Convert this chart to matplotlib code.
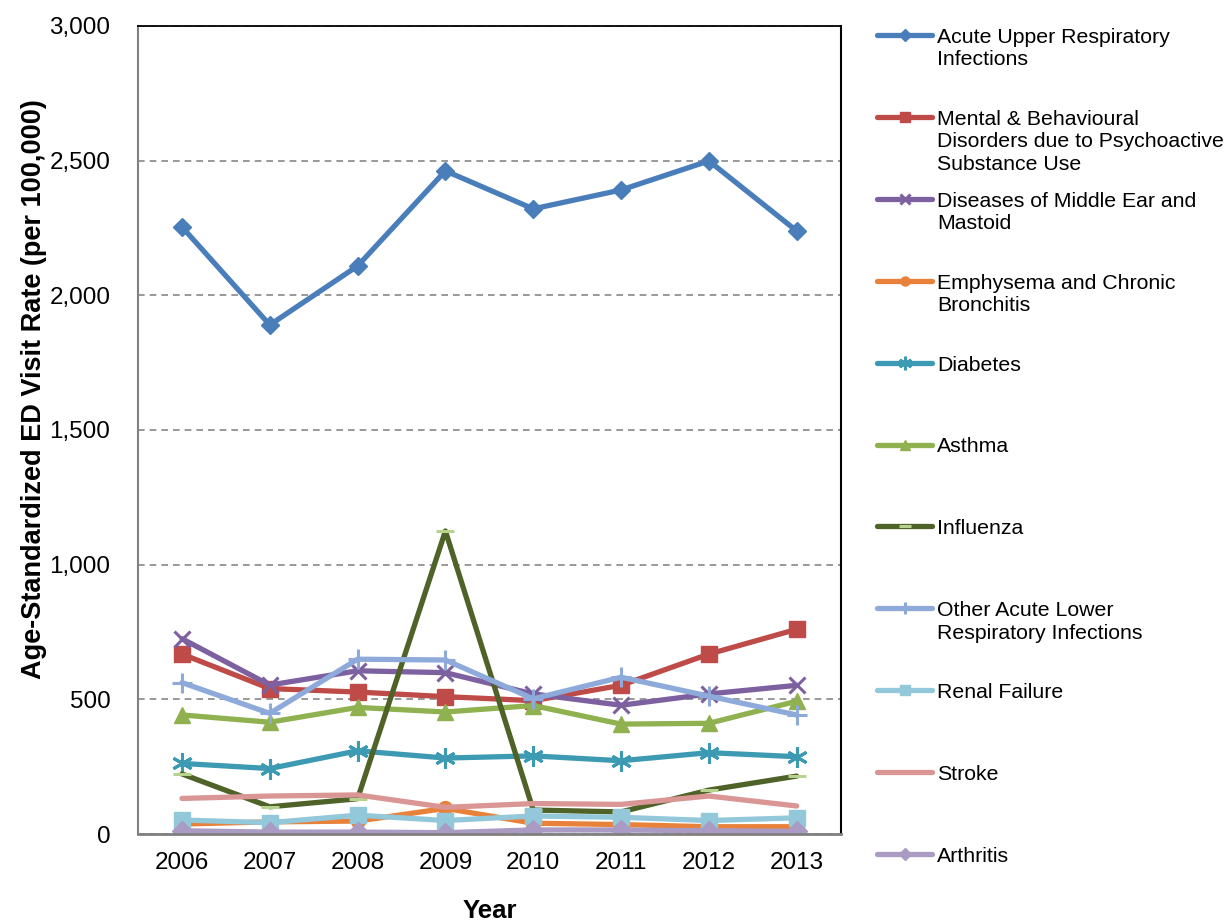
import matplotlib.pyplot as plt
import matplotlib.ticker as mticker
from matplotlib.lines import Line2D

plt.rcParams['font.family'] = ['Liberation Sans', 'DejaVu Sans']

years = ['2006', '2007', '2008', '2009', '2010', '2011', '2012', '2013']

acute_upper = [2254, 1890, 2109, 2462, 2321, 2391, 2499, 2239]
mental = [668, 540, 527, 510, 495, 552, 668, 760]
middle_ear = [725, 553, 606, 599, 520, 478, 520, 552]
emphysema = [37, 45, 48, 95, 40, 35, 27, 27]
diabetes = [262, 243, 309, 282, 290, 272, 302, 287]
asthma = [442, 415, 470, 453, 477, 408, 411, 493]
influenza = [223, 101, 131, 1125, 89, 82, 163, 215]
lower_resp = [562, 448, 649, 646, 502, 582, 512, 442]
renal = [52, 42, 70, 50, 67, 62, 50, 60]
stroke = [132, 141, 145, 99, 113, 110, 141, 104]
arthritis = [12, 7, 7, 5, 15, 15, 12, 10]

labels = ['Acute Upper Respiratory\nInfections',
          'Mental & Behavioural\nDisorders due to Psychoactive\nSubstance Use',
          'Diseases of Middle Ear and\nMastoid',
          'Emphysema and Chronic\nBronchitis',
          'Diabetes',
          'Asthma',
          'Influenza',
          'Other Acute Lower\nRespiratory Infections',
          'Renal Failure',
          'Stroke',
          'Arthritis']

series = [acute_upper, mental, middle_ear, emphysema, diabetes, asthma,
          influenza, lower_resp, renal, stroke, arthritis]

# (line colour, marker, marker size, marker face colour)
styles = [
    ('#4a7ebb', 'D', 9, None),
    ('#be4b48', 's', 11, None),
    ('#7d60a0', 'x', 11, None),
    ('#e8823a', 'o', 10, None),
    ('#3c9ab2', (6, 2, 0), 15, None),
    ('#8fb14f', '^', 11, None),
    ('#4f6228', '_', 13, '#b7d38e'),
    ('#8eaadb', '+', 14, None),
    ('#93c8da', 's', 12, None),
    ('#d99694', 'None', 0, None),
    ('#a99bc3', 'D', 10, None),
]

fig = plt.figure(figsize=(12.25, 9.24), dpi=100)
ax = fig.add_axes([0.1127, 0.0974, 0.5735, 0.8745])

x = list(range(len(years)))
handles = []
for vals, (col, mk, ms, mfc) in zip(series, styles):
    line, = ax.plot(x, vals, color=col, linewidth=3.8, marker=mk, markersize=ms,
                    markerfacecolor=mfc if mfc else col,
                    markeredgecolor=mfc if mfc else col,
                    markeredgewidth=2.2 if mk in ('x', '+', '_', (6, 2, 0)) else 1,
                    solid_capstyle='round', solid_joinstyle='round')
    handles.append(line)

ax.set_xlim(-0.5, len(years) - 0.5)
ax.set_ylim(0, 3000)
ax.set_xticks(x)
ax.set_xticklabels(years)
ax.yaxis.set_major_locator(mticker.MultipleLocator(500))
ax.yaxis.set_major_formatter(mticker.StrMethodFormatter('{x:,.0f}'))
ax.tick_params(length=0, labelsize=17.5)
ax.tick_params(axis='x', pad=13)
ax.tick_params(axis='y', pad=20)
ax.yaxis.grid(True, color='#888888', linestyle=(0, (4, 3)), linewidth=1.2)
ax.set_axisbelow(True)

ax.spines['left'].set_color('#808080')
ax.spines['bottom'].set_color('#808080')
ax.spines['left'].set_linewidth(1.5)
ax.spines['bottom'].set_linewidth(2)
ax.spines['top'].set_color('black')
ax.spines['right'].set_color('black')
ax.spines['top'].set_linewidth(1.3)
ax.spines['right'].set_linewidth(1.5)

ax.set_ylabel('Age-Standardized ED Visit Rate (per 100,000)', fontsize=19.5,
              fontweight='bold')
ax.yaxis.set_label_coords(-0.129, 0.551)
ax.set_xlabel('Year', fontsize=18.5, fontweight='bold', labelpad=18)

# legend drawn as a column of line samples with top-aligned labels
fig_h = 924
for i, (h, lab) in enumerate(zip(handles, labels)):
    y_px = 35 + i * 81.9
    yf = 1 - y_px / fig_h
    fig.add_artist(Line2D([877 / 1225, 932 / 1225], [yf, yf], color=h.get_color(),
                          linewidth=3.8, solid_capstyle='round',
                          transform=fig.transFigure))
    fig.add_artist(Line2D([905 / 1225], [yf], marker=h.get_marker(),
                          markersize=h.get_markersize() * 0.65,
                          markerfacecolor=h.get_markerfacecolor(),
                          markeredgecolor=h.get_markeredgecolor(),
                          markeredgewidth=h.get_markeredgewidth(),
                          linestyle='None', transform=fig.transFigure))
    fig.text(937 / 1225, 1 - (y_px - 7) / fig_h, lab, fontsize=15.3,
             va='top', ha='left', linespacing=1.22)

fig.savefig('out.png', dpi=100)
